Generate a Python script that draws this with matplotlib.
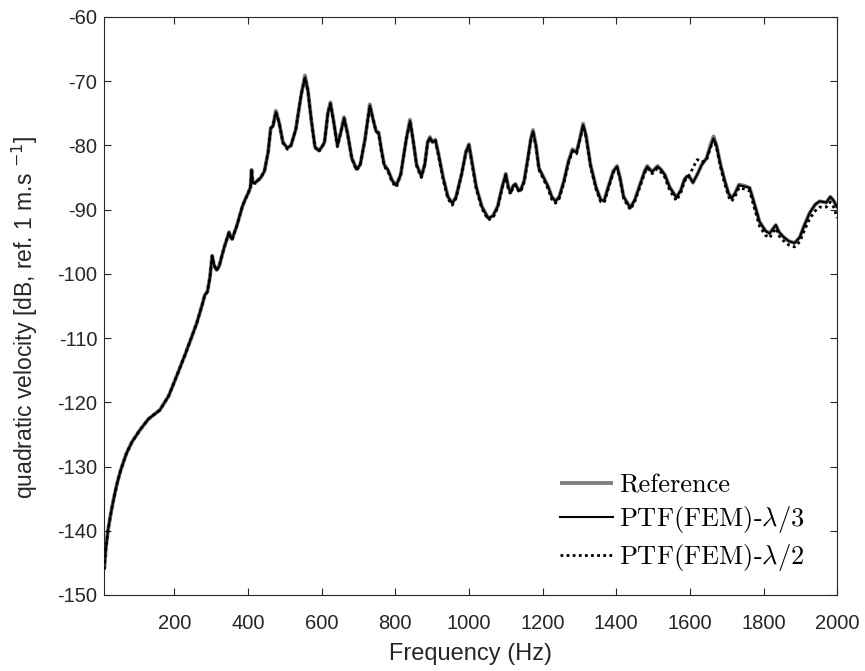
import matplotlib
matplotlib.use("Agg")
import matplotlib.pyplot as plt
from matplotlib.font_manager import FontProperties

freq = [10, 14, 20, 28, 35, 45, 55, 70, 85, 107, 130, 161, 185, 206, 230, 261, 275, 283, 290, 297,
        303, 308, 315, 322, 335, 349, 353, 357, 370, 385, 392, 401, 407, 410, 413, 420, 435, 445, 455, 462,
        468, 476, 485, 495, 507, 517, 530, 545, 555, 563, 572, 582, 592, 600, 608, 617, 624, 632, 643, 652,
        661, 670, 682, 695, 705, 718, 731, 740, 748, 755, 762, 770, 780, 792, 803, 815, 830, 840, 848, 858,
        871, 880, 888, 894, 901, 909, 918, 930, 943, 955, 965, 980, 992, 1000, 1008, 1020, 1035, 1052, 1065, 1078,
        1090, 1100, 1107, 1113, 1120, 1126, 1133, 1140, 1150, 1160, 1168, 1174, 1182, 1190, 1201, 1215, 1225, 1235, 1245, 1258,
        1270, 1281, 1292, 1301, 1310, 1318, 1330, 1345, 1358, 1367, 1378, 1392, 1402, 1410, 1420, 1438, 1450, 1465, 1477, 1484,
        1497, 1512, 1522, 1532, 1545, 1563, 1575, 1585, 1592, 1600, 1608, 1620, 1632, 1645, 1655, 1664, 1672, 1683, 1694, 1705,
        1713, 1722, 1733, 1749, 1762, 1772, 1789, 1805, 1816, 1825, 1833, 1842, 1853, 1868, 1884, 1898, 1910, 1925, 1940, 1952,
        1962, 1970, 1981, 1990, 2000]

reference = [-146, -143, -140, -137.3, -135.2, -132.6, -130.5, -128, -126.2, -124.3, -122.6, -121.2, -119, -116, -112.5, -107.7, -105, -103.3, -102.8, -100.5,
             -97.2, -98.6, -99.4, -98.8, -96, -93.5, -94.3, -94.6, -92.5, -89.5, -88.5, -87.4, -86.5, -83.8, -85.8, -85.8, -85, -84, -81, -77.3,
             -77, -74.6, -76.5, -79.5, -80.4, -80, -77.5, -72, -69.1, -71.5, -76, -80.2, -80.8, -80.3, -79.5, -75, -73.3, -76, -80, -78,
             -75.6, -78, -82, -83.7, -83, -79, -73.6, -76, -77.8, -78, -80.5, -83, -83.8, -85.5, -86.2, -84.5, -79, -76.0, -79, -83,
             -84.8, -83, -79.5, -78.7, -79.5, -79.1, -81.5, -85, -88, -89, -88, -84.5, -81, -79.8, -82.5, -86.5, -89.5, -91.3, -91, -89.5,
             -86.5, -84.4, -86.5, -87.3, -86.3, -86, -86.8, -87, -85.5, -82, -79, -77.6, -80, -83.5, -84.8, -86.4, -88, -88.7, -88, -85.5,
             -82.5, -80.6, -81.1, -79, -76.6, -78.5, -83, -86.5, -88.5, -88.6, -86.5, -84, -83.2, -85, -88, -89.7, -88.5, -86, -84, -83.2,
             -84.1, -83.2, -83.8, -84.6, -86.5, -88.1, -87, -85.3, -84.8, -85, -85.8, -84.5, -83, -82, -80.1, -78.6, -80, -83, -85.4, -87.5,
             -88.2, -87.5, -86.1, -86.3, -86.6, -88.5, -91.9, -93.3, -93.7, -93, -92.4, -93.5, -94.2, -94.9, -95.2, -94.3, -92.5, -90.5, -89.2, -88.7,
             -88.8, -88.9, -88.0, -88.6, -89.7]

ptf_lam3 = [-146, -143, -140, -137.3, -135.2, -132.6, -130.5, -128, -126.2, -124.3, -122.6, -121.2, -119, -116, -112.5, -107.7, -105, -103.3, -102.8, -100.5,
            -97.2, -98.6, -99.4, -98.8, -96, -93.5, -94.3, -94.6, -92.5, -89.5, -88.5, -87.4, -86.5, -83.8, -85.8, -85.8, -85, -84, -81, -77.3,
            -77, -74.8, -76.5, -79.5, -80.4, -80, -77.5, -72, -69.4, -71.5, -76, -80.2, -80.8, -80.3, -79.5, -75, -73.5, -76, -80, -78,
            -75.8, -78, -82, -83.7, -83, -79, -73.8, -76, -77.8, -78, -80.5, -83, -83.8, -85.5, -86.2, -84.5, -79, -76.2, -79, -83,
            -84.8, -83, -79.5, -78.8, -79.5, -79.2, -81.5, -85, -88, -89, -88, -84.5, -81, -79.9, -82.5, -86.5, -89.5, -91.3, -91, -89.5,
            -86.5, -84.5, -86.5, -87.3, -86.3, -86, -86.8, -87, -85.5, -82, -79, -77.8, -80, -83.5, -84.8, -86.4, -88, -88.7, -88, -85.5,
            -82.5, -80.7, -81.1, -79, -76.8, -78.5, -83, -86.5, -88.5, -88.6, -86.5, -84, -83.3, -85, -88, -89.7, -88.5, -86, -84, -83.3,
            -84.1, -83.3, -83.8, -84.6, -86.5, -88.1, -87, -85.3, -84.8, -85, -85.8, -84.5, -83, -82, -80.3, -78.9, -80, -83, -85.4, -87.5,
            -88.2, -87.5, -86.2, -86.4, -86.6, -88.5, -91.9, -93.3, -93.7, -93, -92.4, -93.5, -94.2, -94.9, -95.2, -94.3, -92.5, -90.5, -89.2, -88.7,
            -88.8, -88.9, -88.0, -88.6, -89.7]

ptf_lam2 = [-146, -143, -140, -137.3, -135.2, -132.6, -130.5, -128, -126.2, -124.3, -122.6, -121.2, -119, -116, -112.5, -107.7, -105, -103.3, -102.8, -100.5,
            -97.2, -98.6, -99.5, -98.8, -96, -93.5, -94.3, -94.7, -92.5, -89.5, -88.5, -87.4, -86.5, -83.8, -85.8, -85.9, -85, -84, -81, -77.3,
            -77, -74.8, -76.5, -79.6, -80.6, -80, -77.5, -72, -69.5, -71.5, -76, -80.3, -81.0, -80.4, -79.5, -75, -73.5, -76, -80.2, -78,
            -75.8, -78, -82, -83.9, -83, -79, -73.9, -76, -77.8, -78.2, -80.8, -83.3, -84.0, -85.8, -86.5, -84.5, -79, -76.3, -79, -83.2,
            -85.0, -83, -79.5, -78.9, -79.5, -79.3, -81.8, -85.3, -88.3, -89.3, -88.2, -84.5, -81, -80.0, -82.7, -86.8, -89.8, -91.6, -91.3, -89.7,
            -86.7, -84.6, -86.8, -87.6, -86.5, -86.2, -87.0, -87.3, -85.7, -82.2, -79.1, -77.9, -80.2, -83.8, -85.1, -86.8, -88.4, -89.0, -88.3, -85.8,
            -82.8, -80.9, -81.3, -79.2, -77.0, -78.7, -83.3, -86.8, -88.8, -88.9, -86.8, -84.2, -83.4, -85.2, -88.3, -90.0, -88.8, -86.3, -84.3, -83.5,
            -84.4, -83.6, -84.2, -85.0, -87.0, -88.6, -87.4, -85.6, -85.0, -84.5, -83.5, -82.2, -82.6, -82.3, -80.5, -79.1, -80.3, -83.4, -85.9, -88.0,
            -88.7, -88.0, -86.6, -86.8, -87.1, -89.2, -92.6, -94.0, -94.4, -93.6, -92.9, -94.1, -94.8, -95.5, -95.8, -95.0, -93.3, -91.4, -90.2, -89.6,
            -89.6, -89.6, -88.8, -89.6, -91.3]

x_ticks = list(range(200, 2001, 200))
y_ticks = list(range(-150, -59, 10))

fig = plt.figure(figsize=(8.65, 6.71), dpi=100)
ax = fig.add_axes([0.1205, 0.1133, 0.8475, 0.8614])

ax.plot(freq, reference, color="#808080", lw=2.8, solid_capstyle="butt", label="Reference", zorder=1)
ax.plot(freq, ptf_lam3, color="black", lw=1.5, label=r"PTF(FEM)-$\lambda$/3", zorder=2)
ax.plot(freq, ptf_lam2, color="black", lw=2.0, linestyle=(0, (1, 1.2)), label=r"PTF(FEM)-$\lambda$/2", zorder=3)

ax.set_xlim(10, 2000)
ax.set_ylim(-150, -60)
ax.set_xticks(x_ticks)
ax.set_yticks(y_ticks)
ax.set_xticklabels([str(t) for t in x_ticks])
ax.set_yticklabels([str(t) for t in y_ticks])

tick_color = "#262626"
ax.tick_params(direction="in", length=5, width=0.8, top=True, right=True,
               colors=tick_color, labelsize=14.5)
ax.tick_params(axis="x", pad=14)
ax.tick_params(axis="y", pad=5)
for lab in ax.get_xticklabels() + ax.get_yticklabels():
    lab.set_fontfamily("Liberation Sans")
    lab.set_color(tick_color)
for sp in ax.spines.values():
    sp.set_color(tick_color)
    sp.set_linewidth(0.8)

ax.set_xlabel("Frequency (Hz)", fontsize=17, family="Liberation Sans", color=tick_color, labelpad=7)
ax.set_ylabel(r"quadratic velocity [dB, ref. 1 m.s $^{-1}$]", fontsize=16.5, family="Liberation Sans",
              color=tick_color, labelpad=10)
ax.yaxis.set_label_coords(-0.087, 0.48)

leg_font = FontProperties(family="cmr10", size=19, math_fontfamily="cm")
leg = ax.legend(loc="lower right", prop=leg_font, frameon=False, handlelength=2.0,
                handletextpad=0.25, labelspacing=0.25, borderaxespad=0.0,
                bbox_to_anchor=(0.97, 0.02))

fig.savefig("out.png", dpi=100, facecolor="white")
